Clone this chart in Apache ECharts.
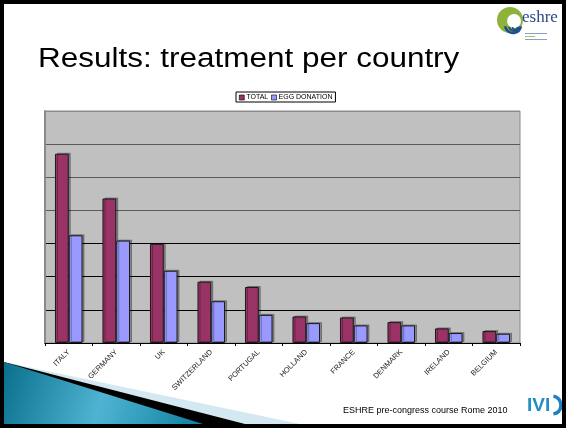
<!DOCTYPE html>
<html><head><meta charset="utf-8">
<script src="https://cdn.jsdelivr.net/npm/echarts@6/dist/echarts.min.js"></script>
<style>html,body{margin:0;padding:0;background:#fff}#c{width:566px;height:428px}</style>
</head><body><div id="c"></div>
<script>
const categories = ['ITALY','GERMANY','UK','SWITZERLAND','PORTUGAL','HOLLAND','FRANCE','DENMARK','IRELAND','BELGIUM'];
const totalValues = [5.71, 4.36, 2.99, 1.85, 1.69, 0.80, 0.77, 0.63, 0.44, 0.36];
const eggValues = [3.25, 3.09, 2.18, 1.26, 0.85, 0.60, 0.53, 0.53, 0.30, 0.28];
const seriesNames = ['TOTAL', 'EGG DONATION'];
const titleText = 'Results: treatment per country';
const footerText = 'ESHRE pre-congress course Rome 2010';

const chart = echarts.init(document.getElementById('c'), null, {renderer: 'canvas'});
const font = 'Liberation Sans, Arial, sans-serif';
const barShadow = {shadowColor: 'rgba(0,0,0,0.3)', shadowOffsetX: 2, shadowOffsetY: -1, shadowBlur: 0};
chart.setOption({
  animation: false,
  backgroundColor: '#fff',
  textStyle: {fontFamily: font},
  legend: {
    left: 236, top: 92, padding: [2, 3, 1, 3], itemGap: 3,
    itemWidth: 5, itemHeight: 5, icon: 'rect',
    itemStyle: {borderWidth: 0.6, borderColor: '#000'},
    borderColor: '#000', borderWidth: 1,
    textStyle: {fontSize: 7, color: '#000', fontFamily: font, padding: [0, 0, 0, -3]},
    data: seriesNames
  },
  grid: {left: 45, right: 46, top: 111, bottom: 85, show: true, backgroundColor: '#c0c0c0', borderColor: '#8a8a8a', borderWidth: 1},
  xAxis: {
    type: 'category', data: categories,
    axisLine: {lineStyle: {color: '#000', width: 1}},
    axisTick: {show: true, length: 3, lineStyle: {color: '#000'}},
    axisLabel: {rotate: 45, fontSize: 7.5, color: '#222', fontFamily: font, margin: 8, interval: 0}
  },
  yAxis: {
    type: 'value', min: 0, max: 7, interval: 1,
    axisLine: {show: true, lineStyle: {color: '#8a8a8a', width: 2}},
    axisTick: {show: false},
    axisLabel: {show: false},
    splitLine: {show: true, lineStyle: {color: ['#000', '#000', '#000', '#000', '#5a5a5a', '#5a5a5a', '#5a5a5a', '#8a8a8a'], width: 1.2}}
  },
  series: [
    {name: seriesNames[0], type: 'bar', data: totalValues, barGap: '0%', barCategoryGap: '42%',
     itemStyle: Object.assign({color: '#993366', borderColor: '#1a1a1a', borderWidth: 1}, barShadow)},
    {name: seriesNames[1], type: 'bar', data: eggValues,
     itemStyle: Object.assign({color: '#9999ff', borderColor: '#1a1a1a', borderWidth: 1}, barShadow)}
  ],
  graphic: [
    // bottom-left decoration
    {type: 'polygon', z: 1, shape: {points: [[4, 362], [300, 424], [4, 424]]}, style: {fill: '#d3e8f0'}},
    {type: 'polygon', z: 2, shape: {points: [[4, 362], [245, 424], [4, 424]]}, style: {fill: '#000'}},
    {type: 'polygon', z: 3, shape: {points: [[4, 362], [203, 424], [4, 424]]},
     style: {fill: new echarts.graphic.LinearGradient(0, 0, 1, 1, [{offset: 0, color: '#0a6f8c'}, {offset: 0.5, color: '#4fb4d2'}, {offset: 1, color: '#0e7fa0'}])}},
    // title
    {type: 'text', x: 38, y: 46, scaleX: 1.165, style: {text: titleText, font: '27px ' + font, fill: '#000'}},
    // footer
    {type: 'text', x: 343, y: 406, style: {text: footerText, font: '9px ' + font, fill: '#000'}},
    // eshre logo
    {type: 'circle', shape: {cx: 510, cy: 20, r: 13}, style: {fill: '#8db33a'}},
    {type: 'circle', shape: {cx: 514, cy: 21, r: 7}, style: {fill: '#fff'}},
    {type: 'arc', shape: {cx: 513, cy: 25, r: 8, startAngle: Math.PI * 0.95, endAngle: Math.PI * 0.05, clockwise: false}, style: {stroke: '#1f4f8f', lineWidth: 2.5, fill: null}},
    {type: 'arc', shape: {cx: 514, cy: 26, r: 5, startAngle: Math.PI * 0.95, endAngle: Math.PI * 0.05, clockwise: false}, style: {stroke: '#1f4f8f', lineWidth: 2, fill: null}},
    {type: 'arc', shape: {cx: 515, cy: 27, r: 2.5, startAngle: Math.PI, endAngle: 0, clockwise: false}, style: {stroke: '#1f4f8f', lineWidth: 1.5, fill: null}},
    {type: 'text', x: 522, y: 9, style: {text: 'eshre', font: '17px Liberation Serif, serif', fill: '#2a4a8a'}},
    {type: 'rect', shape: {x: 525, y: 33, width: 22, height: 1}, style: {fill: '#8aa0c0'}},
    {type: 'rect', shape: {x: 525, y: 36, width: 10, height: 1}, style: {fill: '#a8c070'}},
    {type: 'rect', shape: {x: 525, y: 39, width: 22, height: 1}, style: {fill: '#8aa0c0'}},
    // IVI logo
    {type: 'text', x: 527, y: 396, style: {text: 'IVI', font: 'bold 19px ' + font, fill: '#1f8fc6'}},
    {type: 'arc', shape: {cx: 552, cy: 405, r: 9, startAngle: -Math.PI * 0.45, endAngle: Math.PI * 0.45}, style: {stroke: '#1f7fc0', lineWidth: 3.5, fill: null}},
    // slide frame
    {type: 'rect', z: 10, shape: {x: 2, y: 2, width: 562, height: 424}, style: {fill: null, stroke: '#000', lineWidth: 4}}
  ]
});
</script></body></html>
